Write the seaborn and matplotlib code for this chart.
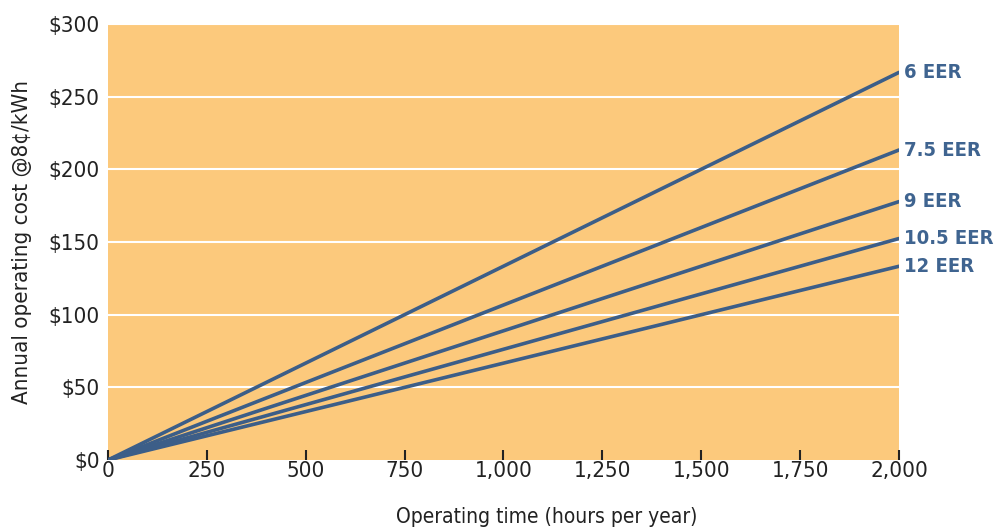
import matplotlib
matplotlib.use("Agg")
import matplotlib.pyplot as plt
import seaborn as sns
import pandas as pd

hours = [0, 2000]
series = ["6 EER", "7.5 EER", "9 EER", "10.5 EER", "12 EER"]
costs = {
    "6 EER": [0, 266.7],
    "7.5 EER": [0, 213.3],
    "9 EER": [0, 177.8],
    "10.5 EER": [0, 152.4],
    "12 EER": [0, 133.3],
}
xticks = [0, 250, 500, 750, 1000, 1250, 1500, 1750, 2000]
yticks = [0, 50, 100, 150, 200, 250, 300]

rows = []
for s in series:
    for h, c in zip(hours, costs[s]):
        rows.append({"hours": h, "cost": c, "series": s})
df = pd.DataFrame(rows)

sns.set_theme(style="white")
plt.rcParams["font.family"] = ["DejaVu Sans"]
plt.rcParams["font.stretch"] = "condensed"

fig = plt.figure(figsize=(9.95, 5.32), dpi=100)
ax = fig.add_axes([0.1085, 0.1353, 0.795, 0.8196])
ax.set_facecolor("#FCC97C")

line_color = "#3C5E88"
sns.lineplot(data=df, x="hours", y="cost", hue="series", palette=[line_color] * len(series),
             linewidth=2.6, legend=False, ax=ax)

ax.set_xlim(0, 2000)
ax.set_ylim(0, 300)
ax.set_yticks(yticks)
ax.set_xticks(xticks)
ax.set_yticklabels([f"${v}" for v in yticks])
ax.set_xticklabels([f"{v:,}" for v in xticks])
for g in yticks[1:]:
    ax.axhline(g, color="white", linewidth=1.5, zorder=1)
for sp in ax.spines.values():
    sp.set_visible(False)
ax.tick_params(axis="x", direction="in", length=7, width=1.5, color="#222222",
               labelsize=16, pad=1, bottom=True)
ax.tick_params(axis="y", length=0, labelsize=16, pad=6, left=False)
for lab in ax.get_xticklabels() + ax.get_yticklabels():
    lab.set_color("#222222")

ax.set_xlabel("Operating time (hours per year)", fontsize=15, color="#222222")
ax.xaxis.set_label_coords(0.555, -0.108)
ax.set_ylabel("Annual operating cost @8¢/kWh", fontsize=16, color="#222222", labelpad=12)

for s in series:
    ax.text(2000 + 12, costs[s][-1], s, fontsize=14.5, fontweight="bold", color="#3F6490",
            va="center", ha="left", clip_on=False)

fig.savefig("out.png", dpi=100)
